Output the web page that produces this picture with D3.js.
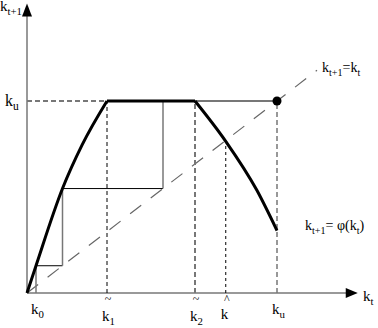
<!DOCTYPE html>
<html>
<head>
<meta charset="utf-8">
<script src="https://cdn.jsdelivr.net/npm/d3@7"></script>
<style>
  body { margin: 0; background: #fff; }
  text { font-family: "Liberation Serif", "DejaVu Serif", serif; fill: #000; }
</style>
</head>
<body>
<div id="chart"></div>
<script>
// curve k_{t+1} = phi(k_t), rising part and falling part (ku = 10)
var riseK = [0, 0.36, 1.42, 2.2, 3.2];
var riseY = [0, 1.42, 5.44, 7.7, 10];
var fallK = [6.72, 7.95, 9.19, 10];
var fallY = [10, 7.9, 5.36, 3.25];

// cobweb sequence k0 -> phi(k0) -> ...
var cobweb = [0.36, 1.42, 5.44, 10];

var kU = 10;
var xMarks = [
  {name: "k0", k: 0.36},
  {name: "k1", k: 3.2},
  {name: "k2", k: 6.72},
  {name: "khat", k: 7.95},
  {name: "ku", k: 10}
];
var diagEnd = 11.6;

var svgWidth = 378, svgHeight = 328;
var svg = d3.select("#chart").append("svg")
  .attr("width", svgWidth)
  .attr("height", svgHeight);

var x = d3.scaleLinear().domain([0, 13.2]).range([27, 357]);
var y = d3.scaleLinear().domain([0, 15]).range([293, 5]);

var line = d3.line().x(d => x(d[0])).y(d => y(d[1]));

// axes (no ticks)
svg.append("g")
  .attr("transform", `translate(0, ${y(0)})`)
  .call(d3.axisBottom(x).tickValues([]).tickSizeOuter(0))
  .select(".domain").attr("stroke", "#777").attr("stroke-width", 1.5)
  .attr("d", `M${x(0)},0H${x(12.9)}`);
svg.append("g")
  .attr("transform", `translate(${x(0)}, 0)`)
  .call(d3.axisLeft(y).tickValues([]).tickSizeOuter(0))
  .select(".domain").attr("stroke", "#777").attr("stroke-width", 1.5)
  .attr("d", `M0,${y(0)}V${y(14.5)}`);

// arrow heads
svg.append("path")
  .attr("d", `M${x(0) - 5},${y(14.4)}L${x(0)},${y(14.4) - 13}L${x(0) + 5},${y(14.4)}Z`)
  .attr("fill", "#000");
svg.append("path")
  .attr("d", `M${x(12.75)},${y(0) - 5}L${x(12.75) + 12},${y(0)}L${x(12.75)},${y(0) + 5}Z`)
  .attr("fill", "#000");

// 45 degree line
svg.append("path")
  .attr("d", line([[0, 0], [diagEnd, diagEnd]]))
  .attr("fill", "none")
  .attr("stroke", "#666")
  .attr("stroke-width", 1.2)
  .attr("stroke-dasharray", "14,12");

// ku dashed horizontal to axis
svg.append("path")
  .attr("d", line([[0, kU], [riseK[riseK.length - 1], kU]]))
  .attr("stroke", "#777").attr("stroke-width", 2)
  .attr("stroke-dasharray", "5,3");

// thin line from plateau end to ku point
svg.append("path")
  .attr("d", line([[fallK[0], kU], [kU, kU]]))
  .attr("stroke", "#777").attr("stroke-width", 2);

// dashed verticals
var vStyles = {
  k1: {c: "#000", w: 1, dash: "4,3", top: kU},
  k2: {c: "#777", w: 2, dash: "5,3", top: kU},
  khat: {c: "#000", w: 1, dash: "3,3", top: fallY[1]},
  ku: {c: "#777", w: 1.5, dash: "5,3", top: kU}
};
xMarks.forEach(function(m) {
  var s = vStyles[m.name];
  if (!s) return;
  svg.append("path")
    .attr("d", line([[m.k, 0], [m.k, s.top]]))
    .attr("stroke", s.c).attr("stroke-width", s.w)
    .attr("stroke-dasharray", s.dash);
});

// cobweb steps
var steps = [];
for (var i = 0; i < cobweb.length - 1; i++) {
  var a = cobweb[i], b = cobweb[i + 1];
  steps.push([[a, i === 0 ? 0 : a], [a, b]]);
  if (i < cobweb.length - 2) steps.push([[a, b], [b, b]]);
}
steps.forEach(function(s, i) {
  svg.append("path")
    .attr("d", line(s))
    .attr("stroke", i % 2 === 0 ? "#777" : "#000")
    .attr("stroke-width", i % 2 === 0 ? 1.5 : 1);
});

// phi curve
var risePts = riseK.map((k, i) => [k, riseY[i]]);
var fallPts = fallK.map((k, i) => [k, fallY[i]]);
var curve = d3.line().x(d => x(d[0])).y(d => y(d[1])).curve(d3.curveMonotoneX);
svg.append("path").attr("d", curve(risePts))
  .attr("fill", "none").attr("stroke", "#000").attr("stroke-width", 3);
svg.append("path").attr("d", line([[riseK[riseK.length - 1], kU], [fallK[0], kU]]))
  .attr("stroke", "#000").attr("stroke-width", 3);
svg.append("path").attr("d", curve(fallPts))
  .attr("fill", "none").attr("stroke", "#000").attr("stroke-width", 3);

// point at (ku, ku)
svg.append("circle")
  .attr("cx", x(kU)).attr("cy", y(kU)).attr("r", 4.5)
  .attr("fill", "#000");

// label helper: main letter + subscript
function label(px, py, main, sub, size, anchor) {
  var t = svg.append("text")
    .attr("x", px).attr("y", py)
    .attr("font-size", size)
    .attr("text-anchor", anchor || "start");
  t.append("tspan").text(main);
  t.append("tspan").attr("dy", 4).attr("font-size", size * 0.72).text(sub);
  return t;
}

label(0, 11, "k", "t+1", 15);
label(5, 106, "k", "u", 16);
label(363, 301, "k", "t", 15);

var xLabelY = {k0: 314, k1: 321, k2: 321, khat: 319, ku: 314};
var xSubs = {k0: "0", k1: "1", k2: "2", khat: "", ku: "u"};
xMarks.forEach(function(m) {
  label(x(m.k) - 5, xLabelY[m.name], "k", xSubs[m.name], 15);
});
// accents above k1, k2, khat
[["k1", "~"], ["k2", "~"], ["khat", "^"]].forEach(function(a) {
  var m = xMarks.find(d => d.name === a[0]);
  svg.append("text")
    .attr("x", x(m.k) + 1).attr("y", a[1] === "~" ? 303 : 303)
    .attr("font-size", 12).attr("text-anchor", "middle")
    .text(a[1]);
});

var t1 = label(322, 72, "k", "t+1", 14);
t1.append("tspan").attr("dy", -4).attr("font-size", 14).text("=k");
t1.append("tspan").attr("dy", 4).attr("font-size", 10).text("t");

var t2 = label(305, 230, "k", "t+1", 14);
t2.append("tspan").attr("dy", -4).attr("font-size", 14).text("= φ(k");
t2.append("tspan").attr("dy", 4).attr("font-size", 10).text("t");
t2.append("tspan").attr("dy", -4).attr("font-size", 14).text(")");
</script>
</body>
</html>
